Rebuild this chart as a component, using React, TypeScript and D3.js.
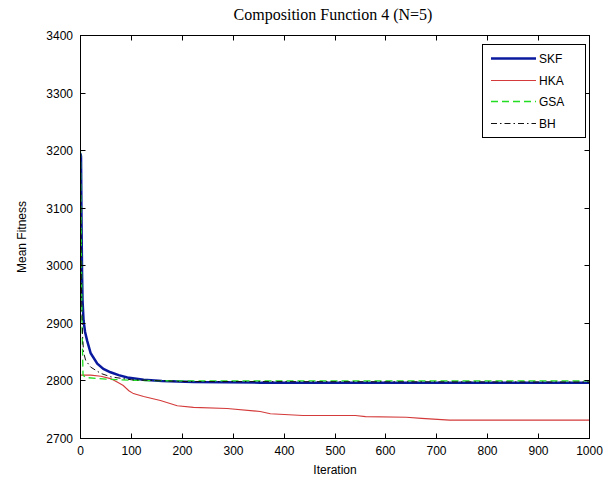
import * as d3 from "d3";

// iteration / mean fitness pairs
const skfIter = [0, 1, 2, 3, 4, 6, 9, 13, 20, 33, 45, 59, 75, 92, 124, 160, 222, 353, 500, 700, 1000];
const skfVal = [3195, 3190, 3080, 2990, 2940, 2905, 2885, 2870, 2848, 2830, 2821, 2815, 2810, 2806, 2802, 2800, 2798, 2797, 2797, 2797, 2797];

const hkaIter = [0, 20, 40, 59, 72, 84, 95, 104, 124, 157, 190, 222, 288, 353, 373, 437, 540, 560, 640, 670, 725, 1000];
const hkaVal = [2810, 2810, 2808, 2804, 2798, 2792, 2783, 2778, 2773, 2766, 2757, 2754, 2752, 2747, 2743, 2740, 2740, 2738, 2737, 2735, 2732, 2732];

const gsaIter = [0, 1, 2, 3, 4, 5, 10, 50, 100, 200, 1000];
const gsaVal = [3200, 3100, 3000, 2900, 2850, 2810, 2806, 2803, 2801, 2800, 2800];

const bhIter = [0, 1, 2, 4, 6, 10, 20, 40, 60, 100, 200, 1000];
const bhVal = [3150, 3050, 2950, 2880, 2850, 2836, 2824, 2813, 2807, 2802, 2799, 2798];

const xTicks = [0, 100, 200, 300, 400, 500, 600, 700, 800, 900, 1000];
const yTicks = [2700, 2800, 2900, 3000, 3100, 3200, 3300, 3400];

const series = [
  { name: "SKF", iter: skfIter, val: skfVal, color: "#0a1a9e", width: 2.5, legendWidth: 2.5, dash: "" },
  { name: "HKA", iter: hkaIter, val: hkaVal, color: "#d43a3a", width: 1.1, legendWidth: 1, dash: "" },
  { name: "GSA", iter: gsaIter, val: gsaVal, color: "#22dd22", width: 1.3, legendWidth: 1.5, dash: "7,4" },
  { name: "BH", iter: bhIter, val: bhVal, color: "#111111", width: 1, legendWidth: 1, dash: "6,3,1.5,3" },
];

const W = 612;
const H = 480;
const left = 80.5;
const right = 589.5;
const top = 35.5;
const bottom = 438.5;
const sans = "Liberation Sans, Arial, sans-serif";

export default function App() {
  const x = d3.scaleLinear().domain([0, 1000]).range([left, right]);
  const y = d3.scaleLinear().domain([2700, 3400]).range([bottom, top]);

  const line = d3
    .line<[number, number]>()
    .x((d) => x(d[0]))
    .y((d) => y(d[1]));

  // draw order: thick SKF first, then others over it
  const drawOrder = [series[1], series[0], series[2], series[3]];

  return (
    <svg
      width={W}
      height={H}
      style={{ position: "absolute", left: 0, top: 0, background: "#fff" }}
    >
      <rect x={0} y={0} width={W} height={H} fill="#fff" />
      <text x={333} y={20} textAnchor="middle" fontFamily="Liberation Serif, Times New Roman, serif" fontSize={16}>
        Composition Function 4 (N=5)
      </text>

      <defs>
        <clipPath id="plot">
          <rect x={left} y={top} width={right - left} height={bottom - top} />
        </clipPath>
      </defs>

      <g clipPath="url(#plot)">
        {drawOrder.map((s) => (
          <path
            key={s.name}
            d={line(s.iter.map((it, i) => [it, s.val[i]] as [number, number])) || ""}
            fill="none"
            stroke={s.color}
            strokeWidth={s.width}
            strokeDasharray={s.dash || undefined}
          />
        ))}
      </g>

      <rect x={left} y={top} width={right - left} height={bottom - top} fill="none" stroke="#000" strokeWidth={1} />

      {xTicks.map((t) => {
        const px = Math.round(x(t) - 0.5) + 0.5;
        return (
          <g key={`x${t}`}>
            <line x1={px} x2={px} y1={bottom} y2={bottom - 5} stroke="#000" />
            <line x1={px} x2={px} y1={top} y2={top + 5} stroke="#000" />
            <text x={px} y={455} textAnchor="middle" fontFamily={sans} fontSize={12}>
              {t}
            </text>
          </g>
        );
      })}
      {yTicks.map((t) => {
        const py = Math.round(y(t) - 0.5) + 0.5;
        return (
          <g key={`y${t}`}>
            <line x1={left} x2={left + 5} y1={py} y2={py} stroke="#000" />
            <line x1={right} x2={right - 5} y1={py} y2={py} stroke="#000" />
            <text x={73} y={py + 4} textAnchor="end" fontFamily={sans} fontSize={12}>
              {t}
            </text>
          </g>
        );
      })}

      <text x={335} y={474} textAnchor="middle" fontFamily={sans} fontSize={12}>
        Iteration
      </text>
      <text
        transform={`translate(26,${(top + bottom) / 2}) rotate(-90)`}
        textAnchor="middle"
        fontFamily={sans}
        fontSize={12}
      >
        Mean Fitness
      </text>

      <g>
        <rect x={482.5} y={44.5} width={103} height={93} fill="#fff" stroke="#000" />
        {series.map((s, i) => {
          const ly = Math.round(58 + i * 21.7) + 0.5;
          return (
            <g key={`leg${s.name}`}>
              <line
                x1={491}
                x2={536}
                y1={ly}
                y2={ly}
                stroke={s.color}
                strokeWidth={s.legendWidth}
                strokeDasharray={s.dash || undefined}
              />
              <text x={539} y={ly + 4.5} fontFamily={sans} fontSize={12}>
                {s.name}
              </text>
            </g>
          );
        })}
      </g>
    </svg>
  );
}
